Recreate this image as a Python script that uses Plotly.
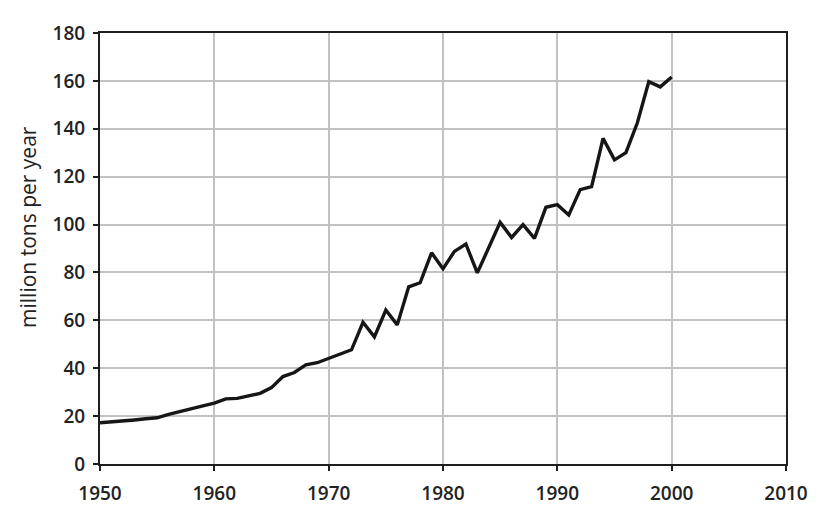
#!/usr/bin/env python3
"""Annual production line chart, 1950-2000 (million tons per year)."""

import plotly.graph_objects as go

YEARS = list(range(1950, 2001))
VALUES = [
    17.2, 17.5, 18.0, 18.4, 18.9, 19.3, 20.7, 22.0, 23.2, 24.3,
    25.4, 27.2, 27.4, 28.4, 29.5, 31.9, 36.5, 38.2, 41.4, 42.3,
    44.0, 46.0, 47.7, 59.2, 53.1, 64.3, 58.1, 74.0, 75.7, 88.2,
    81.5, 88.8, 91.9, 79.8, 90.5, 100.9, 94.6, 100.0, 94.2, 107.2,
    108.3, 104.0, 114.6, 115.8, 136.0, 127.0, 130.0, 142.5, 159.7, 157.5,
    161.6,
]
X_TICKS = [1950, 1960, 1970, 1980, 1990, 2000, 2010]
Y_TICKS = [0, 20, 40, 60, 80, 100, 120, 140, 160, 180]
Y_TITLE = "million tons per year"

FONT = "Open Sans"
INK = "#1e1e1e"

fig = go.Figure()
fig.add_trace(
    go.Scatter(
        x=YEARS,
        y=VALUES,
        mode="lines",
        line=dict(color="#161616", width=3.4),
        showlegend=False,
    )
)

axis_style = dict(
    ticks="outside",
    ticklen=5,
    tickwidth=2,
    tickcolor=INK,
    showgrid=True,
    gridcolor="#c2c2c2",
    gridwidth=2,
    showline=True,
    linecolor=INK,
    linewidth=2,
    mirror=True,
    zeroline=False,
    tickfont=dict(family=FONT, size=19, color="#222222", weight=600),
)

# the page body adds an 8px margin, so the figure is 16px smaller than the window
fig.update_layout(
    width=812,
    height=510,
    margin=dict(l=92, r=31, t=16, b=49),
    paper_bgcolor="white",
    plot_bgcolor="white",
    font=dict(family=FONT, size=19, color="#222222"),
)
fig.update_xaxes(range=[1950, 2010], tickvals=X_TICKS, ticklabelstandoff=6, **axis_style)
fig.update_yaxes(range=[0, 180], tickvals=Y_TICKS, ticklabelstandoff=4, **axis_style)

# y title placed as an annotation so it sits where the original has it
fig.add_annotation(
    text=Y_TITLE,
    xref="paper",
    yref="paper",
    x=-0.105,
    y=0.55,
    xanchor="center",
    yanchor="middle",
    textangle=-90,
    showarrow=False,
    font=dict(family=FONT, size=21, color="#222222"),
)

fig.write_html("out.html")
